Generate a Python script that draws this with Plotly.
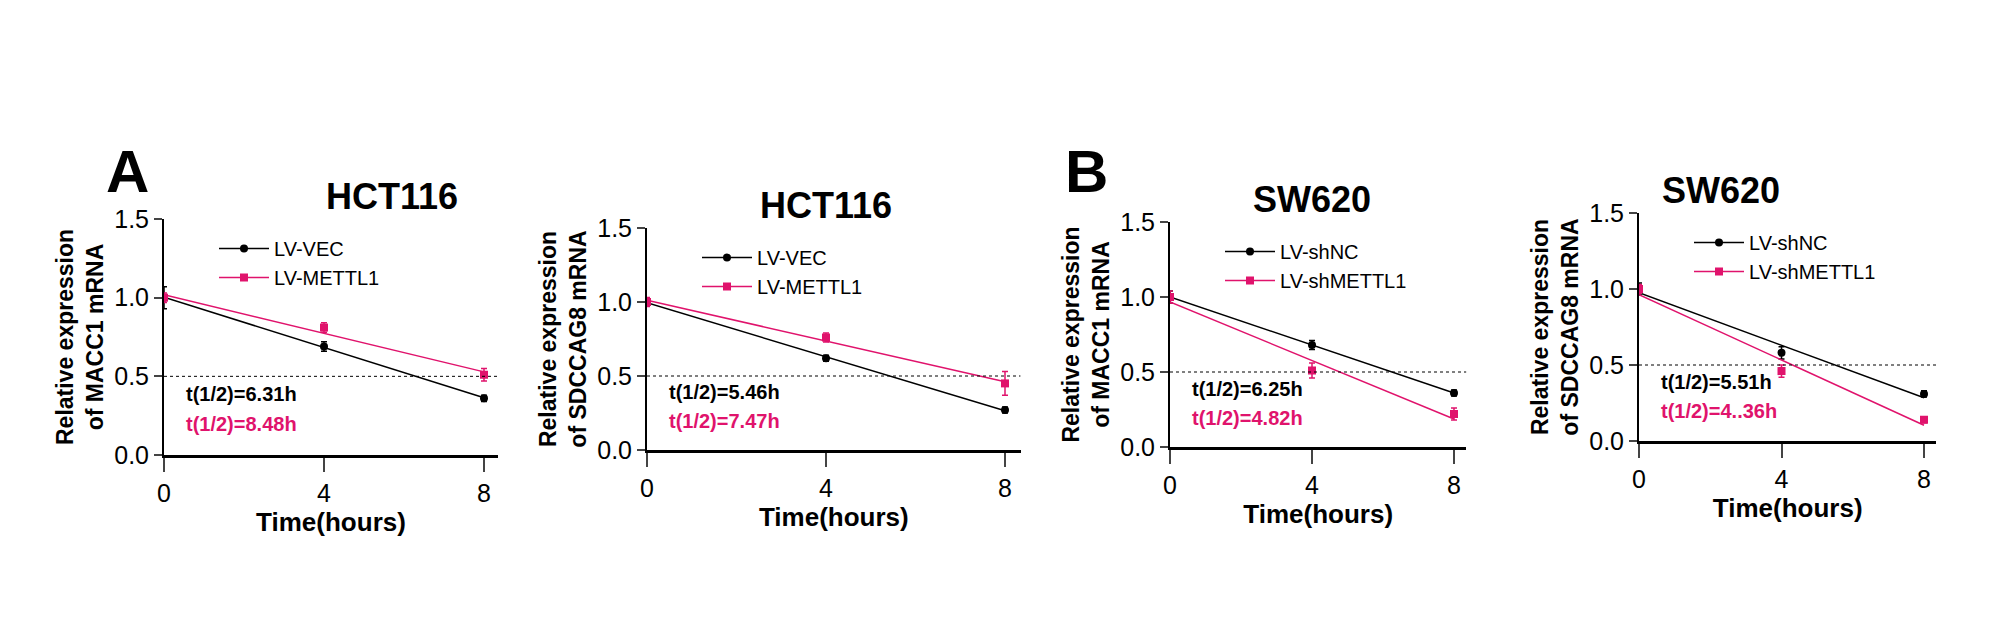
import numpy as np
import plotly.graph_objects as go

PINK = "#E0136C"
time = [0, 4, 8]

titles = ["HCT116", "HCT116", "SW620", "SW620"]
ylabels = ["Relative expression<br>of MACC1 mRNA", "Relative expression<br>of SDCCAG8 mRNA",
           "Relative expression<br>of MACC1 mRNA", "Relative expression<br>of SDCCAG8 mRNA"]
names_ctrl = ["LV-VEC", "LV-VEC", "LV-shNC", "LV-shNC"]
names_test = ["LV-METTL1", "LV-METTL1", "LV-shMETTL1", "LV-shMETTL1"]

ctrl = [[1.0, 0.69, 0.36], [1.0, 0.62, 0.27], [1.0, 0.68, 0.36], [1.0, 0.58, 0.31]]
ctrl_err = [[0.07, 0.03, 0.02], [0.02, 0.02, 0.02], [0.04, 0.03, 0.02], [0.04, 0.04, 0.02]]
test = [[1.0, 0.81, 0.51], [1.0, 0.76, 0.45], [1.0, 0.51, 0.22], [1.0, 0.46, 0.14]]
test_err = [[0.03, 0.03, 0.04], [0.03, 0.03, 0.08], [0.04, 0.05, 0.04], [0.03, 0.04, 0.02]]
half_ctrl = ["t(1/2)=6.31h", "t(1/2)=5.46h", "t(1/2)=6.25h", "t(1/2)=5.51h"]
half_test = ["t(1/2)=8.48h", "t(1/2)=7.47h", "t(1/2)=4.82h", "t(1/2)=4..36h"]

W, H = 2008, 633
# pixel boxes of each plot: x0 (time 0), x8 (time 8), y for 1.5, y for 0.0
boxes = [(156, 476, 211, 447), (639, 997, 220, 442), (1162, 1446, 214, 439), (1631, 1916, 205, 433)]

fig = go.Figure()
FONT = "Liberation Sans, Arial"
COND = "Liberation Sans Narrow, Liberation Sans, Arial"

for i in range(4):
    x0, x8, ytop, ybot = boxes[i]
    xmax = 8.35
    px_per = (x8 - x0) / 8
    xd = [x0 / W, (x0 + xmax * px_per) / W]
    yd = [1 - ybot / H, 1 - ytop / H]
    xa = "xaxis" if i == 0 else f"xaxis{i+1}"
    ya = "yaxis" if i == 0 else f"yaxis{i+1}"
    xr = "x" if i == 0 else f"x{i+1}"
    yr = "y" if i == 0 else f"y{i+1}"
    lg = "legend" if i == 0 else f"legend{i+1}"

    for vals, errs, col, sym, nm in [(ctrl[i], ctrl_err[i], "black", "circle", names_ctrl[i]),
                                     (test[i], test_err[i], PINK, "square", names_test[i])]:
        k, b = np.polyfit(time, vals, 1)
        fig.add_trace(go.Scatter(x=[0, 8], y=[b, b + 8 * k], mode="lines",
                                 line=dict(color=col, width=1.5), xaxis=xr, yaxis=yr,
                                 showlegend=False))
        fig.add_trace(go.Scatter(x=time, y=vals, mode="markers",
                                 marker=dict(color=col, symbol=sym, size=8),
                                 error_y=dict(array=errs, color=col, thickness=1.5, width=3),
                                 xaxis=xr, yaxis=yr, showlegend=False))
        fig.add_trace(go.Scatter(x=[None], y=[None], mode="lines+markers", name=nm,
                                 marker=dict(color=col, symbol=sym, size=8),
                                 line=dict(color=col, width=1.5), xaxis=xr, yaxis=yr,
                                 legend=lg))
    fig.add_shape(type="line", xref=xr, yref=yr, x0=0, x1=xmax, y0=0.5, y1=0.5,
                  line=dict(color="black", width=1, dash="dot"))

    fig.update_layout({
        xa: dict(domain=xd, range=[0, xmax], tickvals=time, showline=True, linewidth=3,
                 linecolor="black", ticks="outside", ticklen=14, tickwidth=2,
                 showgrid=False, zeroline=False, anchor=yr, automargin=False,
                 tickfont=dict(size=25, family=COND, color="black"),
                 title=dict(text="<b>Time(hours)</b>", font=dict(size=26, family=FONT, color="black"),
                            standoff=6)),
        ya: dict(domain=yd, range=[0, 1.5], tickvals=[0, 0.5, 1.0, 1.5], ticktext=["0.0", "0.5", "1.0", "1.5"],
                 showline=True, linewidth=2, linecolor="black", ticks="outside", ticklen=8,
                 tickwidth=2, showgrid=False, zeroline=False, anchor=xr, automargin=False,
                 tickfont=dict(size=25, family=COND, color="black"),
                 title=dict(text=f"<b>{ylabels[i]}</b>", font=dict(size=23, family=FONT, color="black"),
                            standoff=4)),
        lg: dict(x=(x0 + 50) / W, y=1 - (ytop + 10) / H, xanchor="left", yanchor="top",
                 bgcolor="rgba(0,0,0,0)", font=dict(size=20, family=FONT, color="black"),
                 tracegroupgap=14, itemwidth=50),
    })
    cx = (x0 + x8) / 2 / W
    fig.add_annotation(text=f"<b>{titles[i]}</b>", x=cx, y=1 - (ytop - 45) / H, xref="paper", yref="paper",
                       showarrow=False, font=dict(size=36, family=FONT, color="black"))
    fig.add_annotation(text=f"<b>{half_ctrl[i]}</b>", x=(x0 + 20) / W, y=1 - (ytop + (ybot - ytop) * 0.74) / H,
                       xref="paper", yref="paper", xanchor="left", showarrow=False,
                       font=dict(size=20, family=FONT, color="black"))
    fig.add_annotation(text=f"<b>{half_test[i]}</b>", x=(x0 + 20) / W, y=1 - (ytop + (ybot - ytop) * 0.87) / H,
                       xref="paper", yref="paper", xanchor="left", showarrow=False,
                       font=dict(size=20, family=FONT, color=PINK))

fig.add_annotation(text="<b>A</b>", x=96 / W, y=1 - 128 / H, xref="paper", yref="paper",
                   showarrow=False, font=dict(size=60, family=FONT, color="black"))
fig.add_annotation(text="<b>B</b>", x=1078 / W, y=1 - 128 / H, xref="paper", yref="paper",
                   showarrow=False, font=dict(size=60, family=FONT, color="black"))

fig.update_layout(width=W, height=H, margin=dict(l=0, r=0, t=0, b=0),
                  plot_bgcolor="white", paper_bgcolor="white")
fig.write_html("out.html")
